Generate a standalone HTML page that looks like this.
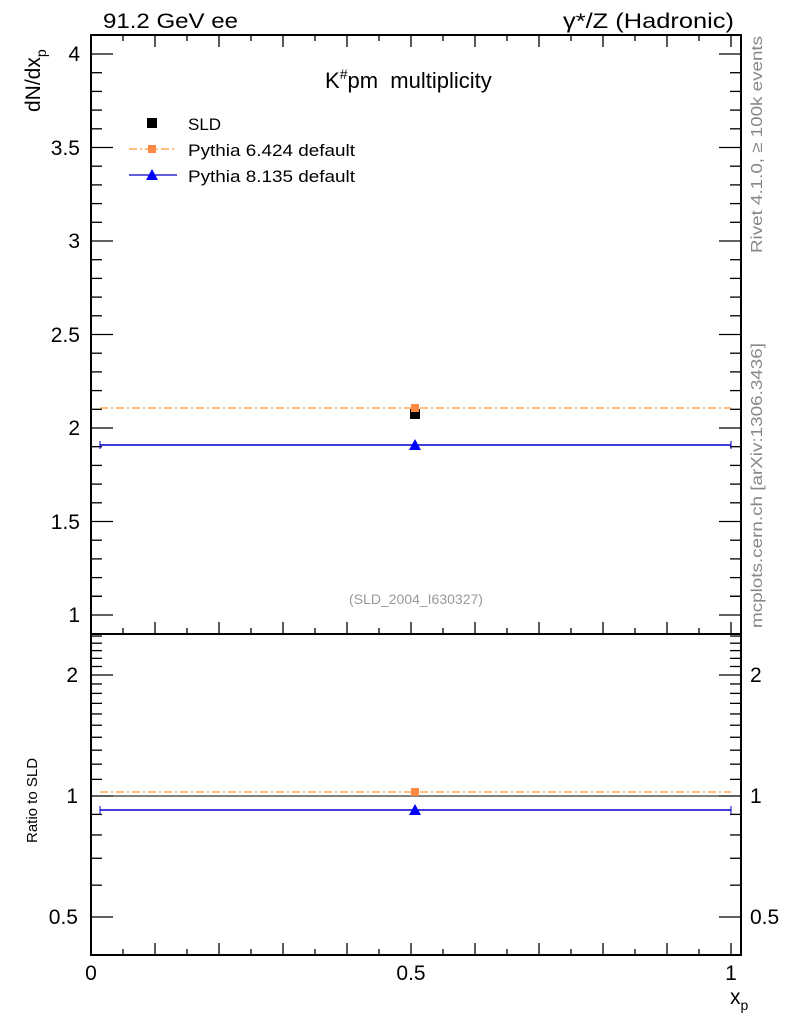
<!DOCTYPE html>
<html><head><meta charset="utf-8"><style>
html,body{margin:0;padding:0;background:#fff;}
svg{display:block;font-family:"Liberation Sans",Arial,sans-serif;}
</style></head><body>
<svg id="s" width="786" height="1024" viewBox="0 0 786 1024" xmlns="http://www.w3.org/2000/svg">
<rect x="0" y="0" width="786" height="1024" fill="#fff"/>
<g id="ticks" stroke="#000" stroke-width="1.3"></g>
<rect x="91" y="35" width="650" height="599" fill="none" stroke="#000" stroke-width="2"/>
<rect x="91" y="634" width="650" height="321" fill="none" stroke="#000" stroke-width="2"/>
<text x="103" y="28" font-size="21" textLength="135" lengthAdjust="spacingAndGlyphs">91.2 GeV ee</text>
<text x="563" y="28" font-size="21" textLength="171" lengthAdjust="spacingAndGlyphs">γ*/Z (Hadronic)</text>
<text x="325" y="88" font-size="22">K<tspan font-size="14" dy="-9">#</tspan><tspan dy="9">pm&#160; multiplicity</tspan></text>
<text transform="translate(40,112) rotate(-90)" font-size="21">dN/dx<tspan font-size="14" dy="6">p</tspan></text>
<text transform="translate(37,843) rotate(-90)" font-size="15">Ratio to SLD</text>
<text x="730" y="1004" font-size="21">x<tspan font-size="14" dy="6">p</tspan></text>
<text transform="translate(762,253) rotate(-90)" font-size="16" fill="#888" textLength="217" lengthAdjust="spacingAndGlyphs">Rivet 4.1.0, ≥ 100k events</text>
<text transform="translate(762,628) rotate(-90)" font-size="16" fill="#888" textLength="285" lengthAdjust="spacingAndGlyphs">mcplots.cern.ch [arXiv:1306.3436]</text>
<text x="416" y="604" font-size="14" fill="#999" text-anchor="middle">(SLD_2004_I630327)</text>
<!-- legend -->
<rect x="147" y="118" width="10" height="10" fill="#000"/>
<text x="188" y="130" font-size="17">SLD</text>
<line x1="129" y1="149" x2="177" y2="149" stroke="#f93" stroke-width="1.3" stroke-dasharray="8,3,2,3"/>
<rect x="148" y="145" width="8" height="8" fill="#f84"/>
<text x="188" y="156" font-size="17" textLength="167" lengthAdjust="spacingAndGlyphs">Pythia 6.424 default</text>
<line x1="129" y1="175" x2="177" y2="175" stroke="#00c" stroke-width="1.3"/>
<polygon points="152,169 158,180 146,180" fill="#00f"/>
<text x="188" y="182" font-size="17" textLength="167" lengthAdjust="spacingAndGlyphs">Pythia 8.135 default</text>
<!-- data top -->
<line x1="100" y1="408" x2="731" y2="408" stroke="#f93" stroke-width="1.3" stroke-dasharray="8,3,2,3"/>
<line x1="100" y1="445" x2="731" y2="445" stroke="#00c" stroke-width="1.5"/>
<line x1="100" y1="441" x2="100" y2="449" stroke="#00c"/><line x1="731" y1="441" x2="731" y2="449" stroke="#00c"/>
<rect x="410" y="409" width="10" height="10" fill="#000"/>
<rect x="411" y="404" width="8" height="8" fill="#f84"/>
<polygon points="415,439 421,450 409,450" fill="#00f"/>
<!-- ratio -->
<line x1="91" y1="796" x2="741" y2="796" stroke="#000" stroke-width="1"/>
<line x1="100" y1="792" x2="731" y2="792" stroke="#f93" stroke-width="1.3" stroke-dasharray="8,3,2,3"/>
<line x1="100" y1="810" x2="731" y2="810" stroke="#00c" stroke-width="1.5"/>
<line x1="100" y1="806" x2="100" y2="814" stroke="#00c"/><line x1="731" y1="806" x2="731" y2="814" stroke="#00c"/>
<rect x="411" y="788" width="8" height="8" fill="#f84"/>
<polygon points="415,804 421,815 409,815" fill="#00f"/>
<g font-size="21">
<text x="80" y="61" text-anchor="end">4</text>
<text x="80" y="155" text-anchor="end">3.5</text>
<text x="80" y="248" text-anchor="end">3</text>
<text x="80" y="342" text-anchor="end">2.5</text>
<text x="80" y="435" text-anchor="end">2</text>
<text x="80" y="529" text-anchor="end">1.5</text>
<text x="80" y="622" text-anchor="end">1</text>
<text x="78" y="682" text-anchor="end">2</text>
<text x="78" y="803" text-anchor="end">1</text>
<text x="78" y="924" text-anchor="end">0.5</text>
<text x="750" y="682">2</text>
<text x="750" y="803">1</text>
<text x="750" y="924">0.5</text>
<text x="91" y="980" text-anchor="middle">0</text>
<text x="411" y="980" text-anchor="middle">0.5</text>
<text x="731" y="980" text-anchor="middle">1</text>
</g>
</svg>
<script>
var g=document.getElementById('ticks'),L=91,R=741;
function ln(x1,y1,x2,y2){var l=document.createElementNS('http://www.w3.org/2000/svg','line');l.setAttribute('x1',x1);l.setAttribute('y1',y1);l.setAttribute('x2',x2);l.setAttribute('y2',y2);g.appendChild(l);}
for(var i=0;i<=31;i++){var v=1+i*0.1;var y=615-(v-1)*187;if(y<36)break;var maj=(i%5==0);var w=maj?22:11;ln(L,y,L+w,y);ln(R,y,R-w,y);}
ln(L,596.3,L+11,596.3);ln(R,596.3,R-11,596.3);
for(var i=0;i<=20;i++){var x=91+i*32;if(x>741)break;var maj=(i%2==0);var h=maj?12:6;ln(x,35,x,35+h);ln(x,634,x,634-h);ln(x,955,x,955-h);}
for(var k=4;k<=25;k++){var v=k/10;var y=796-Math.log2(v)*121;if(y<636||y>954)continue;var maj=(k==5||k==10||k==20);var w=maj?22:11;ln(L,y,L+w,y);ln(R,y,R-w,y);}
</script>
</body></html>
